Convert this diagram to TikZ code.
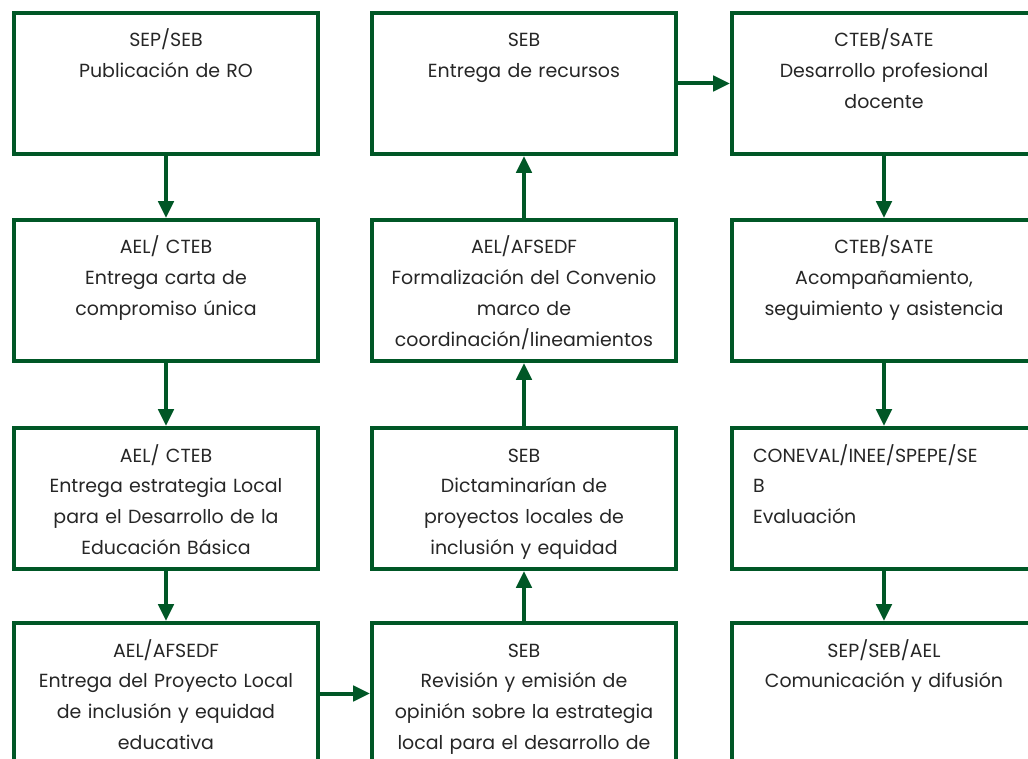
\documentclass[tikz,border=0pt]{standalone}
\usepackage{fontspec}
\setmainfont{Poppins}
\usepackage{tikz}
\usetikzlibrary{positioning,arrows.meta}
\definecolor{tempGreen}{RGB}{0,87,38}
\colorlet{boxgreen}{tempGreen}
\colorlet{textgray}{black!85}

\begin{document}
\begin{tikzpicture}[every node/.style={font=\fontsize{13.5pt}{22pt}\selectfont, text=textgray},
    box/.style={draw=boxgreen, line width=0.1cm, minimum width=7.6cm, minimum height=3.525cm,
        text width=7.2cm, inner xsep=0.2cm, inner ysep=0pt, align=center,
        text height=0.85cm, text depth=2.675cm},
    flow/.style={draw=boxgreen, line width=0.1cm, -{Triangle[length=0.42cm, width=0.38cm]}}]
        \useasboundingbox (0,0) rectangle (25.7,-18.975);
        \clip (0,0) rectangle (25.7,-18.975);

        % Left column
        \node[box] (ro) at (4.15,-2.0875) {SEP/SEB\\Publicación de RO};
        \node[box] (carta) at (4.15,-7.2625) {AEL/ CTEB\\Entrega carta de\\compromiso única};
        \node[box] (estrategia) at (4.15,-12.4625)
            {AEL/ CTEB\\Entrega estrategia Local\\para el Desarrollo de la\\Educación Básica};
        \node[box] (proyecto) at (4.15,-17.3375)
            {AEL/AFSEDF\\Entrega del Proyecto Local\\de inclusión y equidad\\educativa};

        % Middle column
        \node[box] (revision) at (13.1,-17.3375)
            {SEB\\Revisión y emisión de\\opinión sobre la estrategia\\local para el desarrollo de};
        \node[box] (dictamen) at (13.1,-12.4625)
            {SEB\\Dictaminarían de\\proyectos locales de\\inclusión y equidad};
        \node[box] (convenio) at (13.1,-7.2625)
            {AEL/AFSEDF\\Formalización del Convenio\\marco de\\coordinación/lineamientos};
        \node[box] (recursos) at (13.1,-2.0875) {SEB\\Entrega de recursos};

        % Right column
        \node[box] (docente) at (22.1,-2.0875) {CTEB/SATE\\Desarrollo profesional\\docente};
        \node[box] (acomp) at (22.1,-7.2625)
            {CTEB/SATE\\Acompañamiento,\\seguimiento y asistencia};
        \node[box, align=left, text width=6.55cm, inner xsep=0.525cm] (evaluacion) at (22.1,-12.4625)
            {CONEVAL/INEE/SPEPE/SE\\B\\Evaluación};
        \node[box] (difusion) at (22.1,-17.3375) {SEP/SEB/AEL\\Comunicación y difusión};

        \draw[flow] (ro) -- (carta);
        \draw[flow] (carta) -- (estrategia);
        \draw[flow] (estrategia) -- (proyecto);
        \draw[flow] (proyecto) -- (revision);
        \draw[flow] (revision) -- (dictamen);
        \draw[flow] (dictamen) -- (convenio);
        \draw[flow] (convenio) -- (recursos);
        \draw[flow] (recursos) -- (docente);
        \draw[flow] (docente) -- (acomp);
        \draw[flow] (acomp) -- (evaluacion);
        \draw[flow] (evaluacion) -- (difusion);
    \end{tikzpicture}
\end{document}
